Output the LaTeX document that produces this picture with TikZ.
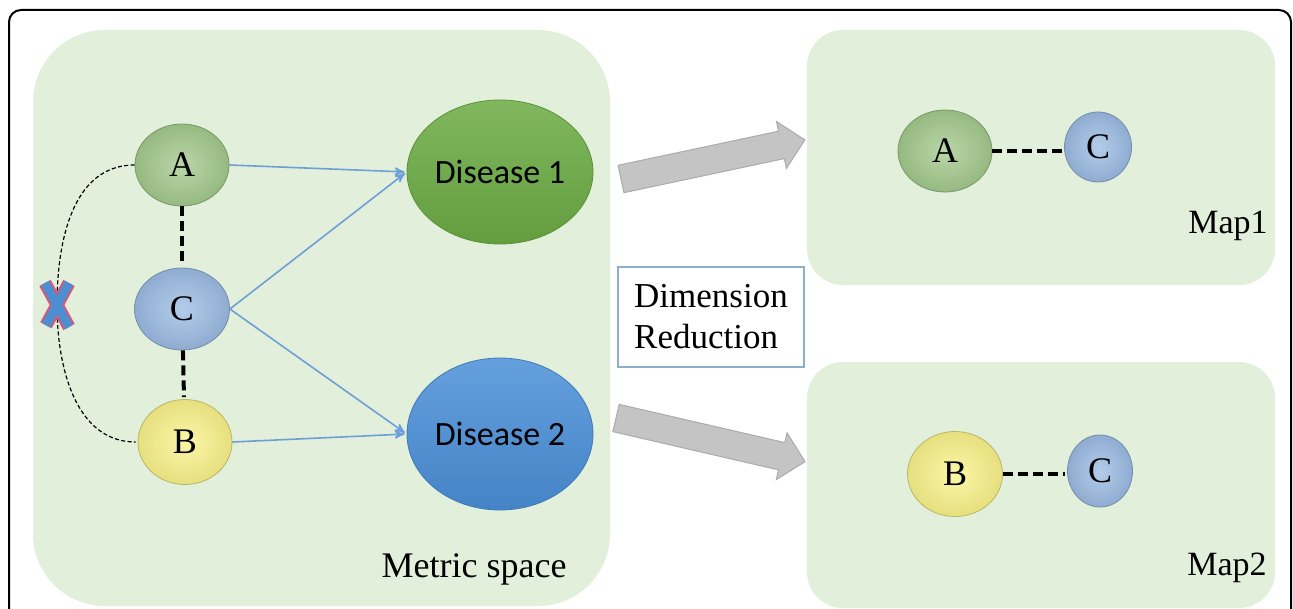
\documentclass[tikz,border=0pt]{standalone}
\usepackage{fontspec}
\setmainfont{Liberation Serif}
\newfontfamily\calibri{Carlito}
\usetikzlibrary{arrows,shapes}

\definecolor{panelgreen}{HTML}{E2EFDA}
\definecolor{ballA}{HTML}{A3C98C}
\definecolor{ballC}{HTML}{9BBBE3}
\definecolor{ballB}{HTML}{FAF38A}
\definecolor{arrowblue}{HTML}{6E9FD8}
\definecolor{disgreen}{HTML}{6BAB43}
\definecolor{disblue}{HTML}{4A8FD8}
\definecolor{boxblue}{HTML}{8EAFC9}
\definecolor{xblue}{HTML}{4C8ED0}
\definecolor{xred}{HTML}{D8577A}

\begin{document}
\begin{tikzpicture}[x=0.5pt,y=-0.5pt,>=stealth',shorten >=1pt,font=\fontsize{18}{20}\selectfont]
  \tikzset{panel/.style={fill=panelgreen,draw=none},
    ball/.style={ellipse,inner sep=0pt,shading=radial,draw=#1!75!black,line width=0.4pt,
      inner color=#1!75!white,outer color=#1!92!black},
    disease/.style={ellipse,inner sep=0pt,minimum width=93pt,draw=#1!85!black,line width=0.4pt,
      top color=#1!85!white,bottom color=#1!92!black,font=\calibri\fontsize{17}{20}\selectfont},
    dashlink/.style={line width=2pt,dash pattern=on 5pt off 2.5pt},
    bigarrow/.style={fill=black!23,draw=black!33,line width=0.5pt}}
  \useasboundingbox (0,0) rectangle (1293,609);
  \clip (0,0) rectangle (1293,609);
  \draw[line width=1pt,rounded corners=6pt] (9,10) rectangle (1291,660);

  % panels
  \path[panel,rounded corners=36pt] (33,30) rectangle (610,606);
  \path[panel,rounded corners=18pt] (807,30) rectangle (1275,285);
  \path[panel,rounded corners=18pt] (807,362) rectangle (1275,608);

  % metric space
  \node[ball=ballA,minimum width=47pt,minimum height=41pt] (A) at (182,165) {A};
  \node[ball=ballC,minimum width=47.5pt,minimum height=41pt] (C) at (182,309) {C};
  \node[ball=ballB,minimum width=47pt,minimum height=42.5pt] (B) at (185,442) {B};
  \node[disease=disgreen,minimum height=72pt] (d1) at (500,172) {Disease 1};
  \node[disease=disblue,minimum height=76pt] (d2) at (500,434) {Disease 2};
  \node[anchor=base] (ms) at (474,577) {Metric space};

  \draw[dashlink] (A) -- (C);
  \draw[dashlink] (C) -- (B);
  \path[->,arrowblue,line width=0.8pt] (A.east) edge (d1.west)
                                       (C.east) edge (d1.west)
                                       (C.east) edge (d2.west)
                                       (B.east) edge (d2.west);

  \coordinate (X) at (57,305);
  \draw[line width=0.6pt,dash pattern=on 2pt off 1.2pt] (A.west) to[out=180,in=90] (X)
    to[out=-90,in=180] (B.west);
  \foreach \c/\w in {xred/6.5pt,xblue/4.5pt}
    \draw[\c,line width=\w] ([shift={(-12,-22)}]X) -- ([shift={(12,22)}]X)
                            ([shift={(12,-22)}]X) -- ([shift={(-12,22)}]X);

  % dimension reduction
  \foreach \x/\y/\r/\l in {621/179/12/188,616/418/-13/194}
    \draw[bigarrow,shift={(\x,\y)},rotate=\r] (0,-14) -- (\l-24,-14) -- (\l-24,-24)
      -- (\l,0) -- (\l-24,24) -- (\l-24,14) -- (0,14) -- cycle;
  \node[draw=boxblue,line width=0.6pt,minimum width=93pt,minimum height=50pt,align=left,
    font=\fontsize{17.5}{20.5}\selectfont] (dr) at (711,317) {Dimension\\Reduction};

  % maps
  \node[ball=ballA,minimum width=47pt,minimum height=41pt] (a1) at (945,151) {A};
  \node[ball=ballC,minimum width=33.5pt,minimum height=35pt] (c1) at (1098,147) {C};
  \draw[dashlink] (a1.east) -- (a1.east -| c1.west);
  \node[anchor=base,font=\fontsize{17}{20}\selectfont] (m1) at (1228,233) {Map1};

  \node[ball=ballB,minimum width=47.5pt,minimum height=42.5pt] (b2) at (955,474) {B};
  \node[ball=ballC,minimum width=32.5pt,minimum height=36pt] (c2) at (1100,471) {C};
  \draw[dashlink] (b2.east) -- (b2.east -| c2.west);
  \node[anchor=base,font=\fontsize{17}{20}\selectfont] (m2) at (1227,575) {Map2};
\end{tikzpicture}
\end{document}
